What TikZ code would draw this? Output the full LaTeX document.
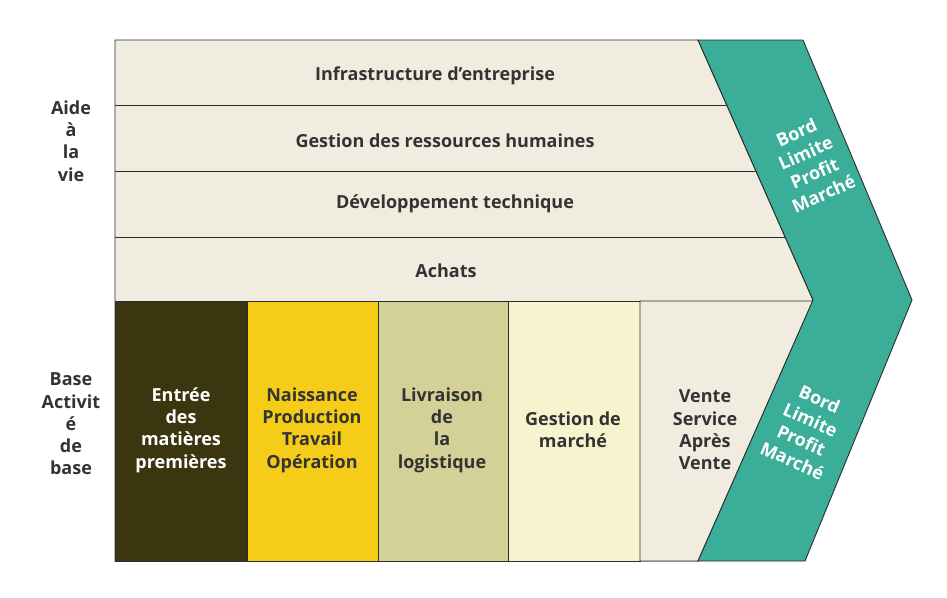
\documentclass[tikz,border=0pt]{standalone}
\usepackage{fontspec}
\setmainfont{Open Sans}
\usetikzlibrary{positioning}
\definecolor{supportfill}{RGB}{240,236,223}
\definecolor{tealfill}{RGB}{58,174,152}
\definecolor{darkfill}{RGB}{59,53,16}
\definecolor{yellowfill}{RGB}{245,204,23}
\definecolor{olivefill}{RGB}{211,209,151}
\definecolor{creamfill}{RGB}{247,243,207}
\definecolor{textgrey}{RGB}{51,51,51}
\definecolor{edgegrey}{RGB}{45,45,45}
\begin{document}
\begin{tikzpicture}[x=1pt,y=-1pt,
  edge/.style={draw=edgegrey,line width=0.9pt,line join=miter},
  lbl/.style={font=\fontsize{18}{22.3}\selectfont\bfseries,text=textgrey,align=center},
  wlbl/.style={lbl,text=white}]
 \useasboundingbox (0,0) rectangle (947,597);
 % support activities
 \draw[edge,fill=supportfill](115,40)--(698,40)--(813,300)--(698,561)--(115,561)--cycle;
 \draw[edge](115,105)--(727,105);
 \draw[edge](115,171)--(756,171);
 \draw[edge](115,237)--(785,237);
 \draw[edge](115,301)--(813,301);
 % primary activities
 \draw[edge,fill=darkfill](115,301) rectangle (247,561);
 \draw[edge,fill=yellowfill](247,301) rectangle (378,561);
 \draw[edge,fill=olivefill](378,301) rectangle (508,561);
 \draw[edge,fill=creamfill](508,301) rectangle (640,561);
 \draw[edge,fill=supportfill](640,301)--(813,301)--(698,561)--(640,561)--cycle;
 % margin chevron
 \draw[edge,fill=tealfill](698,40)--(803,40)--(912,300)--(805,561)--(698,561)--(813,300)--cycle;

 \node[lbl] (infra) at (435,76) {Infrastructure d'entreprise};
 \node[lbl] (rh) at (445,141) {Gestion des ressources humaines};
 \node[lbl] (tech) at (455,204) {Développement technique};
 \node[lbl] (achats) at (446,271) {Achats};

 \node[wlbl] (entree) at (181,430) {Entrée\\des\\matières\\premières};
 \node[lbl] (prod) at (312,430) {Naissance\\Production\\Travail\\Opération};
 \node[lbl] (livr) at (442,430) {Livraison\\de\\la\\logistique};
 \node[lbl] (marche) at (573,430) {Gestion de\\marché};
 \node[lbl] (vente) at (705,430) {Vente\\Service\\Après\\Vente};

 \node[wlbl,rotate=24] (margeh) at (810,163) {Bord\\Limite\\Profit\\Marché};
 \node[wlbl,rotate=-24] (margeb) at (806,430) {Bord\\Limite\\Profit\\Marché};

 \node[lbl] (aide) at (71,141) {Aide\\à\\la\\vie};
 \node[lbl] (base) at (71,424) {Base\\Activit\\é\\de\\base};
\end{tikzpicture}
\end{document}
